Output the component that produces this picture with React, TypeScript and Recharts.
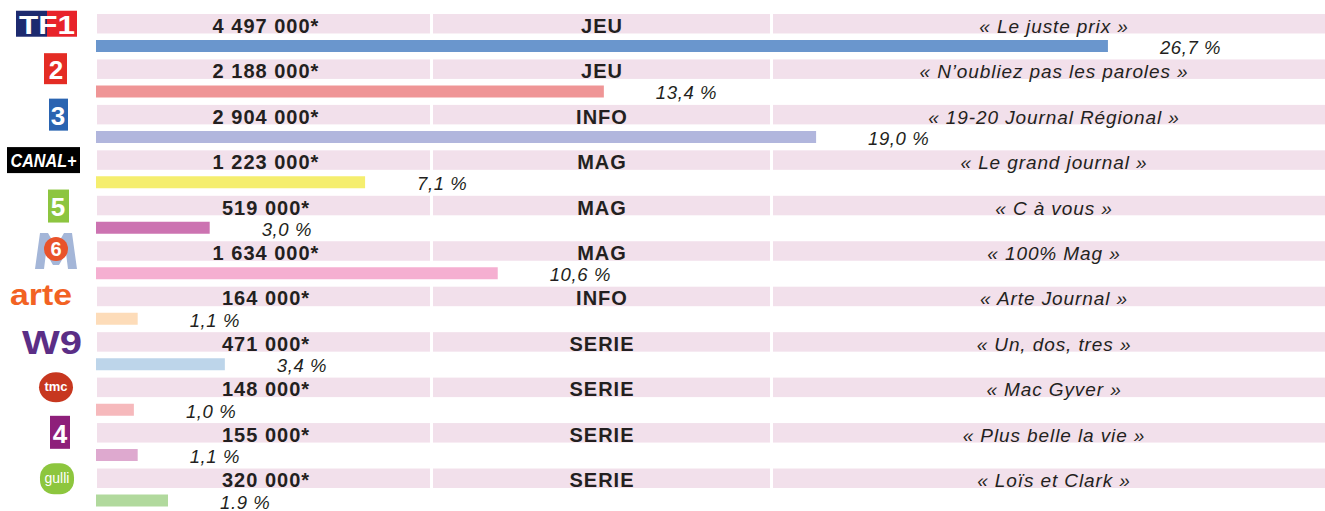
import { BarChart, Bar, XAxis, YAxis, Cell, LabelList } from 'recharts';

// audiences TV par chaîne (access prime time)
const channels = ['TF1', 'France 2', 'France 3', 'Canal+', 'France 5', 'M6', 'Arte', 'W9', 'TMC', 'France 4', 'Gulli'];
const audiences = ['4 497 000*', '2 188 000*', '2 904 000*', '1 223 000*', '519 000*', '1 634 000*', '164 000*', '471 000*', '148 000*', '155 000*', '320 000*'];
const genres = ['JEU', 'JEU', 'INFO', 'MAG', 'MAG', 'MAG', 'INFO', 'SERIE', 'SERIE', 'SERIE', 'SERIE'];
const programmes = [
  '« Le juste prix »',
  '« N’oubliez pas les paroles »',
  '« 19-20 Journal Régional »',
  '« Le grand journal »',
  '« C à vous »',
  '« 100% Mag »',
  '« Arte Journal »',
  '« Un, dos, tres »',
  '« Mac Gyver »',
  '« Plus belle la vie »',
  '« Loïs et Clark »',
];
const shares = [26.7, 13.4, 19.0, 7.1, 3.0, 10.6, 1.1, 3.4, 1.0, 1.1, 1.9];
const shareLabels = ['26,7 %', '13,4 %', '19,0 %', '7,1 %', '3,0 %', '10,6 %', '1,1 %', '3,4 %', '1,0 %', '1,1 %', '1.9 %'];
const barColors = ['#6a96cd', '#ef9596', '#b1b6dd', '#f5ee6e', '#cc73b1', '#f5afd1', '#fddcb9', '#bdd5ea', '#f6b9bc', '#dea9cf', '#b1d99d'];

const data = channels.map((c, i) => ({ channel: c, share: shares[i] }));

const BAND = '#f2e0eb';
const INK = '#231f20';
const FONT = '"Liberation Sans", Arial, sans-serif';

function Logo({ i, cy }: { i: number; cy: number }) {
  const num = (x: number, label: string, size = 26) => (
    <text x={x} y={cy + 10} textAnchor="middle" fill="#fff" fontFamily={FONT} fontWeight="bold" fontSize={size}>
      {label}
    </text>
  );
  switch (i) {
    case 0:
      return (
        <g>
          <rect x={16} y={cy - 13} width={31} height={26} fill="#1d2a6f" />
          <rect x={47} y={cy - 13} width={30} height={26} fill="#e8232b" />
          <text x={47} y={cy + 10} textAnchor="middle" fill="#fff" fontFamily={FONT} fontWeight="bold" fontSize={25} textLength={56} lengthAdjust="spacingAndGlyphs">
            TF1
          </text>
        </g>
      );
    case 1:
      return (
        <g>
          <rect x={44} y={cy - 16} width={23} height={31} fill="#e42c24" />
          {num(56, '2')}
        </g>
      );
    case 2:
      return (
        <g>
          <rect x={49} y={cy - 16} width={19} height={32} fill="#2a64b1" />
          {num(58, '3')}
        </g>
      );
    case 3:
      return (
        <g>
          <rect x={7} y={cy - 13} width={73} height={26} fill="#000" />
          <text x={43.5} y={cy + 7} textAnchor="middle" fill="#fff" fontFamily={FONT} fontWeight="bold" fontStyle="italic" fontSize={19} textLength={66} lengthAdjust="spacingAndGlyphs">
            CANAL+
          </text>
        </g>
      );
    case 4:
      return (
        <g>
          <rect x={48} y={cy - 16} width={21} height={33} fill="#8dc540" />
          {num(58, '5')}
        </g>
      );
    case 5:
      return (
        <g>
          <polygon
            points={[
              [35, 18], [40, -18], [48, -18], [56, -4], [64, -18], [72, -18], [77, 18],
              [68, 18], [66, 2], [59, 14], [53, 14], [46, 2], [44, 18],
            ]
              .map(([px, py]) => `${px},${cy + py}`)
              .join(' ')}
            fill="#a4b6d8"
          />
          <circle cx={56} cy={cy - 2} r={12} fill="#e9532b" />
          <text x={56} y={cy + 5} textAnchor="middle" fill="#fff" fontFamily={FONT} fontWeight="bold" fontSize={20}>
            6
          </text>
        </g>
      );
    case 6:
      return (
        <text x={41} y={cy + 9} textAnchor="middle" fill="#f26223" fontFamily={FONT} fontWeight="bold" fontSize={29} textLength={62} lengthAdjust="spacingAndGlyphs">
          arte
        </text>
      );
    case 7:
      return (
        <text x={52} y={cy + 12} textAnchor="middle" fill="#5b2e86" fontFamily={FONT} fontWeight="bold" fontSize={34} textLength={60} lengthAdjust="spacingAndGlyphs">
          W9
        </text>
      );
    case 8:
      return (
        <g>
          <ellipse cx={56} cy={cy} rx={17} ry={15} fill="#c7371f" />
          <text x={56} y={cy + 4} textAnchor="middle" fill="#fff" fontFamily={FONT} fontWeight="bold" fontSize={13}>
            tmc
          </text>
        </g>
      );
    case 9:
      return (
        <g>
          <rect x={50} y={cy - 17} width={20} height={33} fill="#8e1f7a" />
          {num(60, '4')}
        </g>
      );
    default:
      return (
        <g>
          <rect x={40} y={cy - 15} width={34} height={31} rx={14} fill="#8dc63e" />
          <text x={57} y={cy + 5} textAnchor="middle" fill="#fff" fontFamily={FONT} fontSize={14}>
            gulli
          </text>
        </g>
      );
  }
}

// bandeau rose + textes + logo, placé d'après la position de chaque catégorie
function RowTick(props: any) {
  const { y, index, payload } = props;
  const i = index ?? payload?.index ?? 0;
  const cy = y - 22;
  return (
    <g>
      <rect x={97} y={cy - 9.75} width={333} height={19.5} fill={BAND} />
      <rect x={433} y={cy - 9.75} width={337} height={19.5} fill={BAND} />
      <rect x={773} y={cy - 9.75} width={552} height={19.5} fill={BAND} />
      <text x={266} y={cy + 9} textAnchor="middle" fill={INK} fontFamily={FONT} fontWeight="bold" fontSize={20} letterSpacing={1}>
        {audiences[i]}
      </text>
      <text x={602} y={cy + 9} textAnchor="middle" fill={INK} fontFamily={FONT} fontWeight="bold" fontSize={20} letterSpacing={1}>
        {genres[i]}
      </text>
      <text x={1054} y={cy + 9} textAnchor="middle" fill={INK} fontFamily={FONT} fontStyle="italic" fontSize={19} letterSpacing={0.9}>
        {programmes[i]}
      </text>
      <Logo i={i} cy={cy} />
    </g>
  );
}

function ShareLabel(props: any) {
  const { x, y, width, height, index } = props;
  return (
    <text x={x + width + 52} y={y + height / 2 + 8} fill={INK} fontFamily={FONT} fontStyle="italic" fontSize={18.5} letterSpacing={0.6}>
      {shareLabels[index]}
    </text>
  );
}

export default function App() {
  return (
    <div style={{ position: 'absolute', left: 0, top: 0, width: 1325, height: 511, overflow: 'hidden', background: '#fff' }}>
      <BarChart
        width={1325}
        height={523}
        data={data}
        layout="vertical"
        margin={{ top: 23, right: 92, bottom: 0, left: 0 }}
      >
        <XAxis type="number" domain={[0, 30]} hide />
        <YAxis
          type="category"
          dataKey="channel"
          width={96}
          axisLine={false}
          tickLine={false}
          interval={0}
          tick={(p: any) => <RowTick {...p} />}
        />
        <Bar dataKey="share" barSize={12} isAnimationActive={false}>
          {data.map((d, i) => (
            <Cell key={d.channel} fill={barColors[i]} />
          ))}
          <LabelList dataKey="share" content={(p: any) => <ShareLabel {...p} />} />
        </Bar>
      </BarChart>
    </div>
  );
}
